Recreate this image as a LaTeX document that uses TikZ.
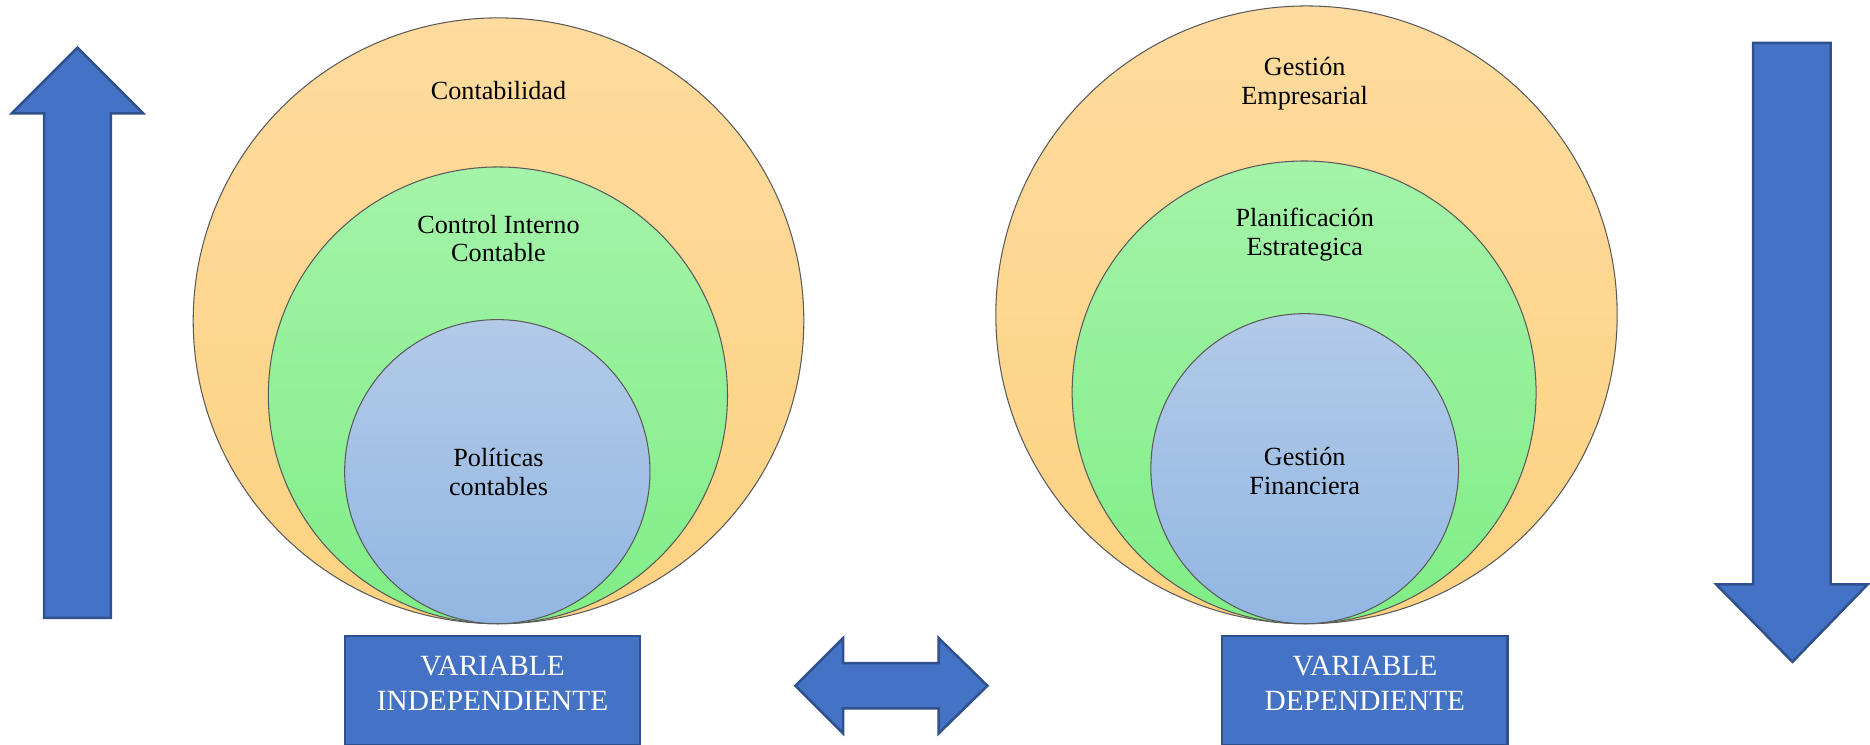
\documentclass[tikz,border=0pt]{standalone}
\usepackage{fontspec}
\setmainfont{Liberation Serif}
\usetikzlibrary{shapes.geometric}
\definecolor{orT}{HTML}{FEDB9E}
\definecolor{orB}{HTML}{FDD281}
\definecolor{grT}{HTML}{A4F3A9}
\definecolor{grB}{HTML}{80EE86}
\definecolor{blT}{HTML}{B3CAE8}
\definecolor{blB}{HTML}{92B7E2}
\definecolor{arrowblue}{HTML}{4472C4}
\definecolor{arrowedge}{HTML}{2F528F}
\definecolor{rimgray}{HTML}{5A5A5A}
\tikzset{
  orfill/.style={top color=orT, bottom color=orB, draw=rimgray, line width=0.5pt},
  grfill/.style={top color=grT, bottom color=grB, draw=rimgray, line width=0.5pt},
  blfill/.style={top color=blT, bottom color=blB, draw=rimgray, line width=0.5pt},
  bigarrow/.style={fill=arrowblue, draw=arrowedge, line width=1.2pt, line join=miter},
  circtext/.style={align=center, font=\fontsize{12.5}{13.8}\selectfont, inner sep=0pt},
  boxtext/.style={align=center, text=white, font=\fontsize{14}{17}\selectfont, inner sep=0pt},
  varbox/.style={fill=arrowblue, draw=arrowedge, line width=1pt, inner sep=0pt}
}
\begin{document}
\begin{tikzpicture}[x=0.02cm,y=-0.02cm]
\useasboundingbox (0,0) rectangle (1568,624);
% left arrow up
\draw[bigarrow] (65,40) -- (120,95) -- (93,95) -- (93,518) -- (37,518) -- (37,95) -- (10,95) -- cycle;
% right arrow down
\draw[bigarrow] (1470,36) -- (1535,36) -- (1535,490) -- (1566,490) -- (1503,555) -- (1439,490) -- (1470,490) -- cycle;
% double arrow
\draw[bigarrow] (667,575) -- (707,535) -- (707,556) -- (787,556) -- (787,535) -- (828,575) -- (787,615) -- (787,594) -- (707,594) -- (707,615) -- cycle;
% left nested circles
\path[orfill] (418,269) ellipse [x radius=256, y radius=254];
\path[grfill] (417.5,331.5) ellipse [x radius=192.5, y radius=191.5];
\path[blfill] (417,395.5) ellipse [x radius=128, y radius=127.5];
\node[circtext] (conta) at (418,76) {Contabilidad};
\node[circtext] (control) at (418,200) {Control Interno\\Contable};
\node[circtext] (polit) at (418,396) {Políticas\\contables};
% right nested circles
\path[orfill] (1095.5,264) ellipse [x radius=260.5, y radius=259];
\path[grfill] (1093.5,329) ellipse [x radius=194.5, y radius=194];
\path[blfill] (1094,393) ellipse [x radius=129, y radius=130];
\node[circtext] (gemp) at (1094,70) {Gestión\\Empresarial};
\node[circtext] (plan) at (1094,197) {Planificación\\Estrategica};
\node[circtext] (gfin) at (1094,395) {Gestión\\Financiera};
% boxes
\draw[varbox] (289,533) rectangle (537,624.5);
\node[boxtext] (vind) at (413,573) {VARIABLE\\INDEPENDIENTE};
\draw[varbox] (1025,533) rectangle (1264,624.5);
\node[boxtext] (vdep) at (1144.5,573) {VARIABLE\\DEPENDIENTE};
\end{tikzpicture}
\end{document}
